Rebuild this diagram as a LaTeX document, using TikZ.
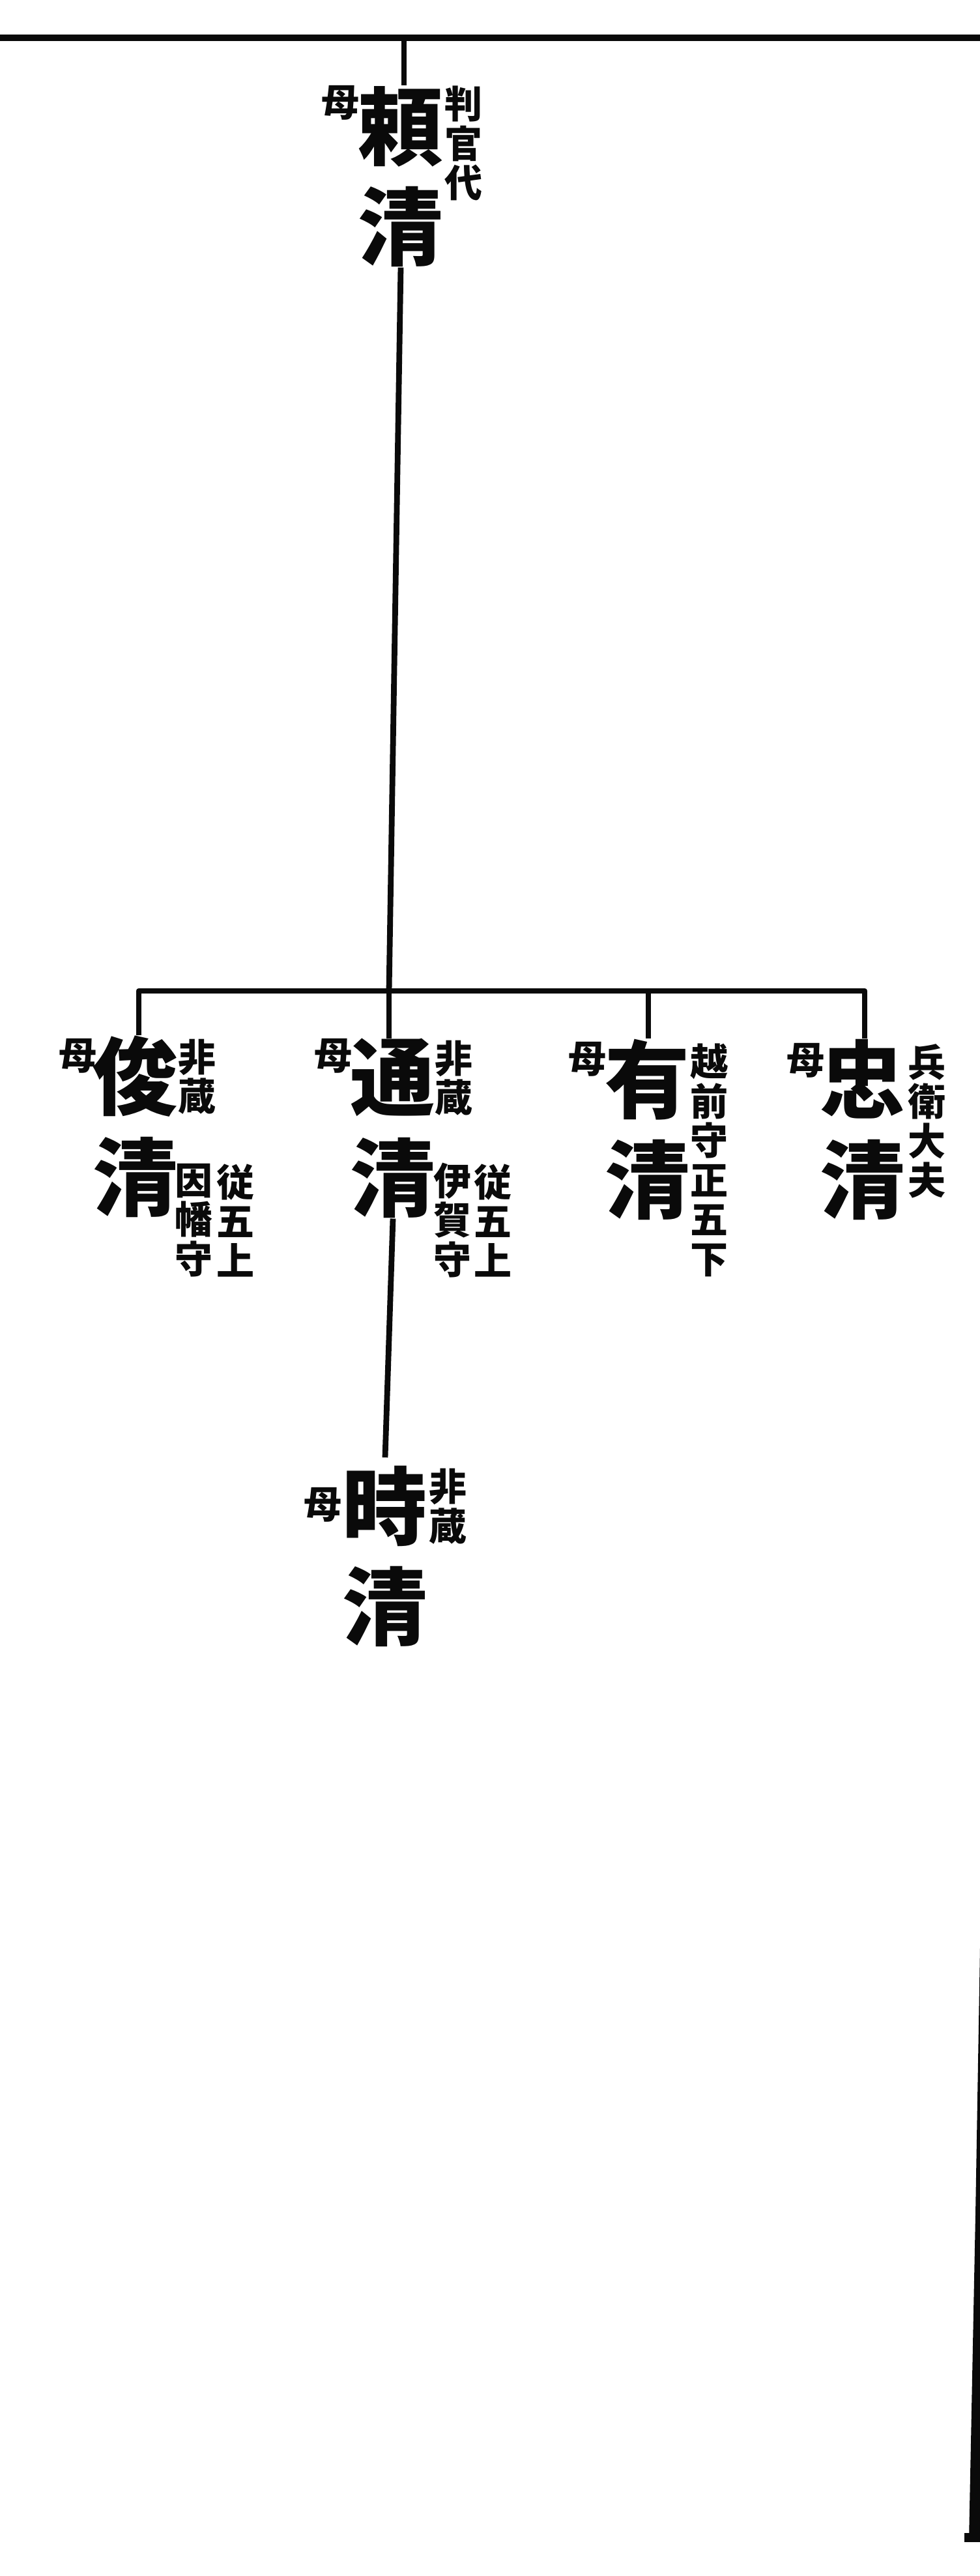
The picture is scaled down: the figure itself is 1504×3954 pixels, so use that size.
\documentclass[tikz,border=0pt]{standalone}
\usepackage{fontspec}
\usepackage{tikz}
\usetikzlibrary{positioning,calc}
\newfontfamily\jpfont{Noto Sans CJK JP}
\definecolor{sumi}{RGB}{10,10,10}

\begin{document}
\begin{tikzpicture}[x=0.01cm,y=-0.01cm,
    namae/.style={inner sep=0pt,align=center,text=sumi,
        font=\jpfont\bfseries\fontsize{37}{44}\selectfont},
    haha/.style={inner sep=0pt,text=sumi,
        font=\jpfont\bfseries\fontsize{16.5}{17.2}\selectfont},
    chuki/.style={inner sep=0pt,align=center,text=sumi,
        font=\jpfont\bfseries\fontsize{16.5}{17.2}\selectfont},
    sen/.style={line width=2.5pt,draw=sumi,line join=round}]
    \useasboundingbox (0,0) rectangle (1504,3954);

    % top rule of the page
    \coordinate (hidari) at (0,58);
    \coordinate (migi) at (1504,58);
    \draw[line width=3pt,sumi] (hidari) -- (migi);

    % 頼清
    \node[namae] (yorikiyo) at (615,271) {頼\\清};
    \node[haha] (haha0) at (523,158) {母};
    \node[chuki] (chu0) at (712,220) {判\\官\\代};
    \coordinate (kami) at (620,58);
    \draw[sen] (kami) -- (kami |- yorikiyo.north);

    % children bar
    \coordinate (bar-l) at (213,1521);
    \coordinate (bar-m) at (597,1521);
    \coordinate (bar-a) at (995,1521);
    \coordinate (bar-r) at (1327,1521);

    \node[namae] (toshikiyo) at (208,1729) {俊\\清};
    \node[haha] (haha1) at (120,1621) {母};
    \node[chuki] (chu1a) at (303,1653) {非\\蔵};
    \node[chuki] (chu1b) at (298,1873) {因\\幡\\守};
    \node[chuki] (chu1c) at (362,1873) {従\\五\\上};

    \node[namae] (michikiyo) at (603,1732) {通\\清};
    \node[haha] (haha2) at (512,1621) {母};
    \node[chuki] (chu2a) at (697,1655) {非\\蔵};
    \node[chuki] (chu2b) at (695,1873) {伊\\賀\\守};
    \node[chuki] (chu2c) at (757,1873) {従\\五\\上};

    \node[namae] (arikiyo) at (994,1734) {有\\清};
    \node[haha] (haha3) at (901,1626) {母};
    \node[chuki] (chu3) at (1088,1781) {越\\前\\守\\正\\五\\下};

    \node[namae] (tadakiyo) at (1324,1734) {忠\\清};
    \node[haha] (haha4) at (1236,1628) {母};
    \node[chuki] (chu4) at (1422,1721) {兵\\衛\\大\\夫};

    \draw[sen] (yorikiyo.south) -- (bar-m);
    \draw[sen] (bar-l |- toshikiyo.north) -- (bar-l) -- (bar-r) -- (bar-r |- tadakiyo.north);
    \draw[sen] (bar-m) -- (bar-m |- michikiyo.north);
    \draw[sen] (bar-a) -- (bar-a |- arikiyo.north);

    % 時清
    \node[namae] (tokikiyo) at (591,2389) {時\\清};
    \node[haha] (haha5) at (496,2310) {母};
    \node[chuki] (chu5) at (688,2312) {非\\蔵};
    \draw[sen] (michikiyo.south) -- ($(tokikiyo.north)+(0,-12)$);

    % scanned page edge
    \fill[sumi] (1504,2990) -- (1504,3900) -- (1487,3900) -- (1497,3400) -- cycle;
    \fill[sumi] (1480,3888) rectangle (1504,3902);
\end{tikzpicture}
\end{document}
